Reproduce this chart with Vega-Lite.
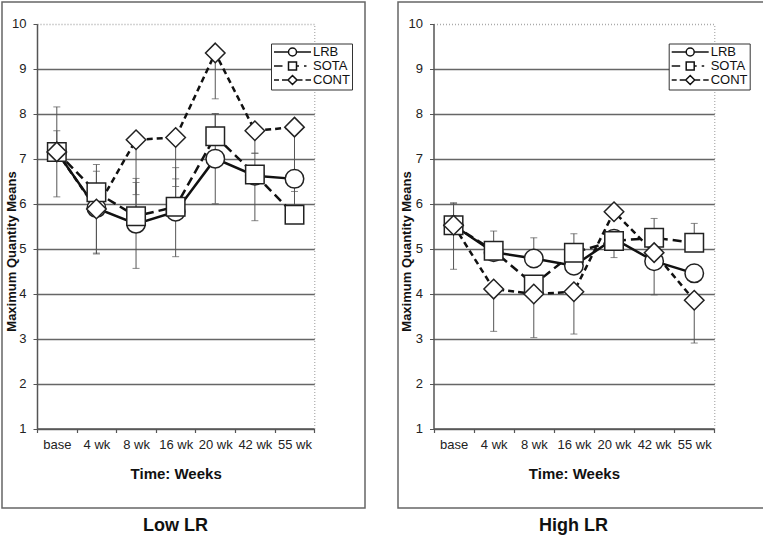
{
  "$schema": "https://vega.github.io/schema/vega-lite/v6.json",
  "background": "white",
  "padding": {"left": 1, "top": 1, "right": 0, "bottom": 0},
  "spacing": 31,
  "config": {
    "font": "Liberation Sans",
    "view": {"stroke": "#666", "strokeWidth": 1.5},
    "axis": {"labelFont": "Liberation Sans", "titleFont": "Liberation Sans"},
    "legend": {"labelFont": "Liberation Sans"},
    "title": {"font": "Liberation Sans"}
  },
  "data": {
    "values": [
      {"p": "Low LR", "t": "base", "s": "LRB", "m": 7.15, "lo": 7.15, "hi": 7.62},
      {"p": "Low LR", "t": "base", "s": "SOTA", "m": 7.15, "lo": 7.15, "hi": 7.15},
      {"p": "Low LR", "t": "base", "s": "CONT", "m": 7.15, "lo": 6.15, "hi": 8.15},
      {"p": "Low LR", "t": "4 wk", "s": "LRB", "m": 5.9, "lo": 4.9, "hi": 6.87},
      {"p": "Low LR", "t": "4 wk", "s": "SOTA", "m": 6.25, "lo": 4.88, "hi": 6.72},
      {"p": "Low LR", "t": "4 wk", "s": "CONT", "m": 5.88, "lo": 5.88, "hi": 5.88},
      {"p": "Low LR", "t": "8 wk", "s": "LRB", "m": 5.55, "lo": 4.56, "hi": 6.56},
      {"p": "Low LR", "t": "8 wk", "s": "SOTA", "m": 5.72, "lo": 5.72, "hi": 6.47},
      {"p": "Low LR", "t": "8 wk", "s": "CONT", "m": 7.42, "lo": 6.2, "hi": 7.42},
      {"p": "Low LR", "t": "16 wk", "s": "LRB", "m": 5.82, "lo": 4.82, "hi": 6.8},
      {"p": "Low LR", "t": "16 wk", "s": "SOTA", "m": 5.93, "lo": 5.93, "hi": 6.55},
      {"p": "Low LR", "t": "16 wk", "s": "CONT", "m": 7.47, "lo": 6.38, "hi": 7.47},
      {"p": "Low LR", "t": "20 wk", "s": "LRB", "m": 7.0, "lo": 6.0, "hi": 8.0},
      {"p": "Low LR", "t": "20 wk", "s": "SOTA", "m": 7.5, "lo": 7.5, "hi": 8.0},
      {"p": "Low LR", "t": "20 wk", "s": "CONT", "m": 9.35, "lo": 8.33, "hi": 9.35},
      {"p": "Low LR", "t": "42 wk", "s": "LRB", "m": 6.62, "lo": 5.62, "hi": 6.62},
      {"p": "Low LR", "t": "42 wk", "s": "SOTA", "m": 6.65, "lo": 6.65, "hi": 7.12},
      {"p": "Low LR", "t": "42 wk", "s": "CONT", "m": 7.62, "lo": 7.12, "hi": 7.62},
      {"p": "Low LR", "t": "55 wk", "s": "LRB", "m": 6.55, "lo": 5.9, "hi": 6.55},
      {"p": "Low LR", "t": "55 wk", "s": "SOTA", "m": 5.75, "lo": 5.75, "hi": 5.75},
      {"p": "Low LR", "t": "55 wk", "s": "CONT", "m": 7.7, "lo": 6.27, "hi": 7.7},
      {"p": "High LR", "t": "base", "s": "LRB", "m": 5.52, "lo": 5.52, "hi": 6.02},
      {"p": "High LR", "t": "base", "s": "SOTA", "m": 5.52, "lo": 5.52, "hi": 6.0},
      {"p": "High LR", "t": "base", "s": "CONT", "m": 5.52, "lo": 4.54, "hi": 5.52},
      {"p": "High LR", "t": "4 wk", "s": "LRB", "m": 4.92, "lo": 4.92, "hi": 4.92},
      {"p": "High LR", "t": "4 wk", "s": "SOTA", "m": 4.95, "lo": 4.95, "hi": 5.39},
      {"p": "High LR", "t": "4 wk", "s": "CONT", "m": 4.1, "lo": 3.16, "hi": 4.1},
      {"p": "High LR", "t": "8 wk", "s": "LRB", "m": 4.78, "lo": 4.78, "hi": 5.24},
      {"p": "High LR", "t": "8 wk", "s": "SOTA", "m": 4.2, "lo": 4.2, "hi": 4.2},
      {"p": "High LR", "t": "8 wk", "s": "CONT", "m": 3.99, "lo": 3.02, "hi": 3.99},
      {"p": "High LR", "t": "16 wk", "s": "LRB", "m": 4.62, "lo": 4.62, "hi": 4.62},
      {"p": "High LR", "t": "16 wk", "s": "SOTA", "m": 4.91, "lo": 4.91, "hi": 5.33},
      {"p": "High LR", "t": "16 wk", "s": "CONT", "m": 4.04, "lo": 3.1, "hi": 4.04},
      {"p": "High LR", "t": "20 wk", "s": "LRB", "m": 5.22, "lo": 5.22, "hi": 5.22},
      {"p": "High LR", "t": "20 wk", "s": "SOTA", "m": 5.17, "lo": 4.8, "hi": 5.17},
      {"p": "High LR", "t": "20 wk", "s": "CONT", "m": 5.82, "lo": 5.82, "hi": 5.82},
      {"p": "High LR", "t": "42 wk", "s": "LRB", "m": 4.72, "lo": 3.97, "hi": 4.72},
      {"p": "High LR", "t": "42 wk", "s": "SOTA", "m": 5.24, "lo": 5.24, "hi": 5.67},
      {"p": "High LR", "t": "42 wk", "s": "CONT", "m": 4.91, "lo": 4.91, "hi": 4.91},
      {"p": "High LR", "t": "55 wk", "s": "LRB", "m": 4.45, "lo": 4.45, "hi": 4.45},
      {"p": "High LR", "t": "55 wk", "s": "SOTA", "m": 5.13, "lo": 5.13, "hi": 5.56},
      {"p": "High LR", "t": "55 wk", "s": "CONT", "m": 3.85, "lo": 2.9, "hi": 3.85}
    ]
  },
  "resolve": {
    "scale": {"shape": "independent", "strokeWidth": "independent"},
    "legend": {"shape": "independent", "strokeWidth": "independent"}
  },
  "hconcat": [
    {
      "width": 363,
      "height": 506,
      "title": {"text": "Low LR", "orient": "bottom", "anchor": "middle", "fontSize": 18, "fontWeight": "bold", "color": "#111", "offset": 9, "dx": -8},
      "transform": [{"filter": "datum.p === 'Low LR'"}],
      "encoding": {
        "x": {
          "field": "t", "type": "ordinal", "sort": ["base", "4 wk", "8 wk", "16 wk", "20 wk", "42 wk", "55 wk"],
          "scale": {"type": "band", "range": [35, 312.3], "paddingInner": 0, "paddingOuter": 0},
          "axis": {"title": "Time: Weeks", "offset": -79.5, "tickBand": "extent", "labelAngle": 0, "grid": false,
            "domainColor": "#555", "domainWidth": 1.5, "tickColor": "#555", "tickSize": 4, "tickWidth": 1.2,
            "labelPadding": 6, "labelFontSize": 13, "labelColor": "#222",
            "titleFontSize": 15, "titleFontWeight": "bold", "titleColor": "#111", "titleBaseline": "alphabetic", "titleY": 50}
        }
      },
      "resolve": {"axis": {"y": "independent"}},
      "layer": [
        {
          "mark": {"type": "rule", "color": "#555", "strokeWidth": 1},
          "encoding": {
            "y": {"field": "lo", "type": "quantitative", "scale": {"domain": [1, 10], "range": [426.5, 21.7], "nice": false, "zero": false},
              "axis": {"orient": "right", "offset": -50.7, "domainColor": "#999", "domainDash": [1, 2], "domainWidth": 1, "ticks": false, "labels": false, "grid": false, "title": null}},
            "y2": {"field": "hi"}
          }
        },
        {
          "mark": {"type": "tick", "color": "#555", "thickness": 1, "size": 7},
          "encoding": {
            "y": {"field": "lo", "type": "quantitative", "scale": {"domain": [1, 10], "range": [426.5, 21.7], "nice": false, "zero": false}, "axis": null}
          }
        },
        {
          "mark": {"type": "tick", "color": "#555", "thickness": 1, "size": 7},
          "encoding": {
            "y": {"field": "hi", "type": "quantitative", "scale": {"domain": [1, 10], "range": [426.5, 21.7], "nice": false, "zero": false}, "axis": null}
          }
        },
        {
          "transform": [{"filter": "datum.s === 'LRB'"}],
          "mark": {"type": "line", "color": "#111", "strokeWidth": 2.5},
          "encoding": {
            "y": {"field": "m", "type": "quantitative", "scale": {"domain": [1, 10], "range": [426.5, 21.7], "nice": false, "zero": false},
              "axis": {"values": [1, 2, 3, 4, 5, 6, 7, 8, 9, 10], "offset": -35, "grid": true,
                "gridColor": {"condition": {"test": "datum.value === 10", "value": "#aaa"}, "value": "#666"},
                "gridDash": {"condition": {"test": "datum.value === 10", "value": [1, 2]}, "value": []},
                "gridWidth": 1.3,
                "domainColor": "#555", "domainWidth": 1.5, "tickColor": "#555", "tickSize": 4, "labelPadding": 7,
                "labelFontSize": 13, "labelColor": "#222",
                "title": "Maximum Quantity Means", "titleFontSize": 13, "titleFontWeight": "bold", "titleColor": "#111",
                "titleX": -19, "titleY": 249}}
          }
        },
        {
          "transform": [{"filter": "datum.s === 'SOTA'"}],
          "mark": {"type": "line", "color": "#111", "strokeWidth": 2.5, "strokeDash": [9, 5]},
          "encoding": {
            "y": {"field": "m", "type": "quantitative", "scale": {"domain": [1, 10], "range": [426.5, 21.7], "nice": false, "zero": false}, "axis": null}
          }
        },
        {
          "transform": [{"filter": "datum.s === 'CONT'"}],
          "mark": {"type": "line", "color": "#111", "strokeWidth": 2.5, "strokeDash": [6, 4]},
          "encoding": {
            "y": {"field": "m", "type": "quantitative", "scale": {"domain": [1, 10], "range": [426.5, 21.7], "nice": false, "zero": false}, "axis": null}
          }
        },
        {
          "mark": {"type": "point", "filled": true, "fill": "white", "stroke": "#222", "opacity": 1, "size": 400},
          "encoding": {
            "y": {"field": "m", "type": "quantitative", "scale": {"domain": [1, 10], "range": [426.5, 21.7], "nice": false, "zero": false}, "axis": null},
            "shape": {"field": "s", "type": "nominal", "scale": {"domain": ["CONT", "LRB", "SOTA"], "range": ["M0,-0.975L0.975,0L0,0.975L-0.975,0Z", "M0.925,0A0.925,0.925 0 1,1 -0.925,0A0.925,0.925 0 1,1 0.925,0Z", "M-0.925,-0.925H0.925V0.925H-0.925Z"]}, "legend": null},
            "strokeWidth": {"field": "s", "type": "nominal", "scale": {"domain": ["LRB", "SOTA", "CONT"], "range": [1.5, 1.5, 1.5]},
              "legend": {"orient": "none", "legendX": 269, "legendY": 41.5, "title": null, "strokeColor": "#333", "fillColor": "white",
                "padding": 2, "rowPadding": -2, "labelFontSize": 13, "labelColor": "#111", "symbolOffset": 13, "labelOffset": 14,
                "symbolSize": 100, "symbolStrokeColor": "#111", "symbolFillColor": "white",
                "encoding": {"symbols": {
                  "shape": {"value": {"expr": "datum.value === 'LRB' ? 'M-3.7,0H-0.8M0.8,0H3.7M0.8,0A0.8,0.8 0 1,1 -0.8,0A0.8,0.8 0 1,1 0.8,0Z' : datum.value === 'SOTA' ? 'M-3.7,0H-2M-0.8,-0.8H0.8V0.8H-0.8ZM0.8,0H1.3M2.3,0H2.8' : 'M-3.7,0H-2.7M-2.1,0H-1M0,-0.9L0.9,0L0,0.9L-0.9,0ZM0.9,0H2M2.6,0H3.7'"}},
                  "fill": {"value": "white"}, "stroke": {"value": "#111"}, "size": {"value": 100}, "opacity": {"value": 1}
                }}}}
          }
        }
      ]
    },
    {
      "width": 367,
      "height": 506,
      "title": {"text": "High LR", "orient": "bottom", "anchor": "middle", "fontSize": 18, "fontWeight": "bold", "color": "#111", "offset": 9, "dx": -8},
      "transform": [{"filter": "datum.p === 'High LR'"}],
      "encoding": {
        "x": {
          "field": "t", "type": "ordinal", "sort": ["base", "4 wk", "8 wk", "16 wk", "20 wk", "42 wk", "55 wk"],
          "scale": {"type": "band", "range": [35.5, 316.3], "paddingInner": 0, "paddingOuter": 0},
          "axis": {"title": "Time: Weeks", "offset": -79.5, "tickBand": "extent", "labelAngle": 0, "grid": false,
            "domainColor": "#555", "domainWidth": 1.5, "tickColor": "#555", "tickSize": 4, "tickWidth": 1.2,
            "labelPadding": 6, "labelFontSize": 13, "labelColor": "#222",
            "titleFontSize": 15, "titleFontWeight": "bold", "titleColor": "#111", "titleBaseline": "alphabetic", "titleY": 50}
        }
      },
      "resolve": {"axis": {"y": "independent"}},
      "layer": [
        {
          "mark": {"type": "rule", "color": "#555", "strokeWidth": 1},
          "encoding": {
            "y": {"field": "lo", "type": "quantitative", "scale": {"domain": [1, 10], "range": [426.5, 21.7], "nice": false, "zero": false},
              "axis": {"orient": "right", "offset": -50.7, "domainColor": "#999", "domainDash": [1, 2], "domainWidth": 1, "ticks": false, "labels": false, "grid": false, "title": null}},
            "y2": {"field": "hi"}
          }
        },
        {
          "mark": {"type": "tick", "color": "#555", "thickness": 1, "size": 7},
          "encoding": {
            "y": {"field": "lo", "type": "quantitative", "scale": {"domain": [1, 10], "range": [426.5, 21.7], "nice": false, "zero": false}, "axis": null}
          }
        },
        {
          "mark": {"type": "tick", "color": "#555", "thickness": 1, "size": 7},
          "encoding": {
            "y": {"field": "hi", "type": "quantitative", "scale": {"domain": [1, 10], "range": [426.5, 21.7], "nice": false, "zero": false}, "axis": null}
          }
        },
        {
          "transform": [{"filter": "datum.s === 'LRB'"}],
          "mark": {"type": "line", "color": "#111", "strokeWidth": 2.5},
          "encoding": {
            "y": {"field": "m", "type": "quantitative", "scale": {"domain": [1, 10], "range": [426.5, 21.7], "nice": false, "zero": false},
              "axis": {"values": [1, 2, 3, 4, 5, 6, 7, 8, 9, 10], "offset": -35.5, "grid": true,
                "gridColor": {"condition": {"test": "datum.value === 10", "value": "#aaa"}, "value": "#666"},
                "gridDash": {"condition": {"test": "datum.value === 10", "value": [1, 2]}, "value": []},
                "gridWidth": 1.3,
                "domainColor": "#555", "domainWidth": 1.5, "tickColor": "#555", "tickSize": 4, "labelPadding": 7,
                "labelFontSize": 13, "labelColor": "#222",
                "title": "Maximum Quantity Means", "titleFontSize": 13, "titleFontWeight": "bold", "titleColor": "#111",
                "titleX": -20, "titleY": 249}}
          }
        },
        {
          "transform": [{"filter": "datum.s === 'SOTA'"}],
          "mark": {"type": "line", "color": "#111", "strokeWidth": 2.5, "strokeDash": [9, 5]},
          "encoding": {
            "y": {"field": "m", "type": "quantitative", "scale": {"domain": [1, 10], "range": [426.5, 21.7], "nice": false, "zero": false}, "axis": null}
          }
        },
        {
          "transform": [{"filter": "datum.s === 'CONT'"}],
          "mark": {"type": "line", "color": "#111", "strokeWidth": 2.5, "strokeDash": [6, 4]},
          "encoding": {
            "y": {"field": "m", "type": "quantitative", "scale": {"domain": [1, 10], "range": [426.5, 21.7], "nice": false, "zero": false}, "axis": null}
          }
        },
        {
          "mark": {"type": "point", "filled": true, "fill": "white", "stroke": "#222", "opacity": 1, "size": 400},
          "encoding": {
            "y": {"field": "m", "type": "quantitative", "scale": {"domain": [1, 10], "range": [426.5, 21.7], "nice": false, "zero": false}, "axis": null},
            "shape": {"field": "s", "type": "nominal", "scale": {"domain": ["CONT", "LRB", "SOTA"], "range": ["M0,-0.975L0.975,0L0,0.975L-0.975,0Z", "M0.925,0A0.925,0.925 0 1,1 -0.925,0A0.925,0.925 0 1,1 0.925,0Z", "M-0.925,-0.925H0.925V0.925H-0.925Z"]}, "legend": null},
            "strokeWidth": {"field": "s", "type": "nominal", "scale": {"domain": ["LRB", "SOTA", "CONT"], "range": [1.5, 1.5, 1.5]},
              "legend": {"orient": "none", "legendX": 270.7, "legendY": 41.5, "title": null, "strokeColor": "#333", "fillColor": "white",
                "padding": 2, "rowPadding": -2, "labelFontSize": 13, "labelColor": "#111", "symbolOffset": 13, "labelOffset": 14,
                "symbolSize": 100, "symbolStrokeColor": "#111", "symbolFillColor": "white",
                "encoding": {"symbols": {
                  "shape": {"value": {"expr": "datum.value === 'LRB' ? 'M-3.7,0H-0.8M0.8,0H3.7M0.8,0A0.8,0.8 0 1,1 -0.8,0A0.8,0.8 0 1,1 0.8,0Z' : datum.value === 'SOTA' ? 'M-3.7,0H-2M-0.8,-0.8H0.8V0.8H-0.8ZM0.8,0H1.3M2.3,0H2.8' : 'M-3.7,0H-2.7M-2.1,0H-1M0,-0.9L0.9,0L0,0.9L-0.9,0ZM0.9,0H2M2.6,0H3.7'"}},
                  "fill": {"value": "white"}, "stroke": {"value": "#111"}, "size": {"value": 100}, "opacity": {"value": 1}
                }}}}
          }
        }
      ]
    }
  ]
}
